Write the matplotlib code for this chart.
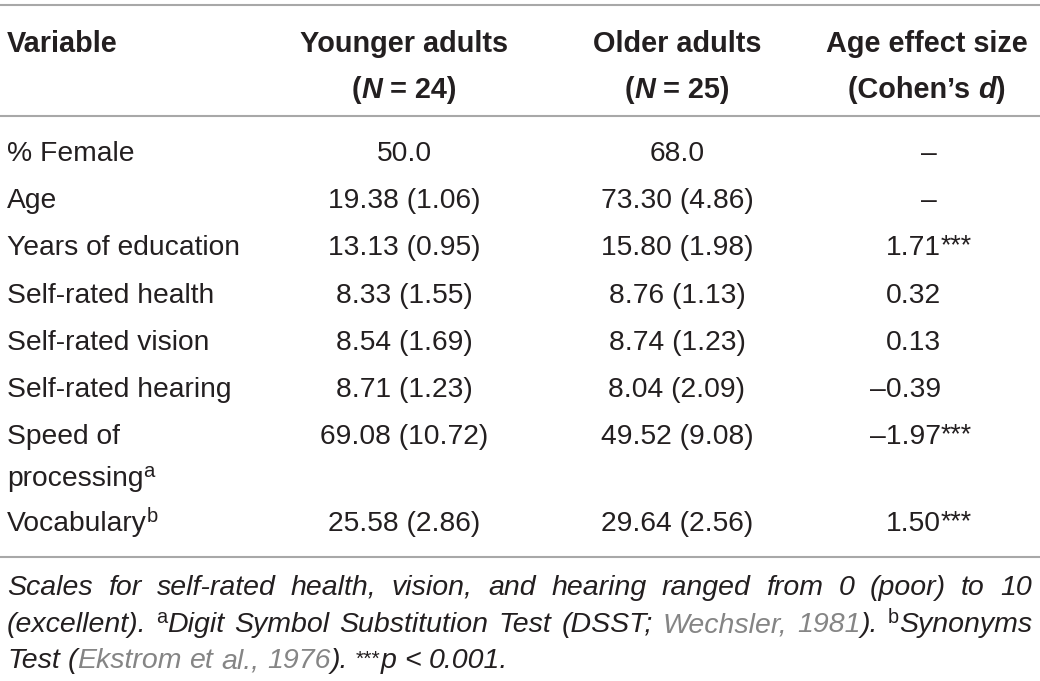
import matplotlib.pyplot as plt

plt.rcParams['font.family'] = ['Liberation Sans', 'DejaVu Sans']

# table content
header_1 = ['Variable', 'Younger adults', 'Older adults', 'Age effect size']
group_n = ['24', '25']
variables = ['% Female', 'Age', 'Years of education', 'Self-rated health',
             'Self-rated vision', 'Self-rated hearing', 'Speed of\nprocessing',
             'Vocabulary']
var_notes = ['', '', '', '', '', '', 'a', 'b']
younger = ['50.0', '19.38 (1.06)', '13.13 (0.95)', '8.33 (1.55)', '8.54 (1.69)',
           '8.71 (1.23)', '69.08 (10.72)', '25.58 (2.86)']
older = ['68.0', '73.30 (4.86)', '15.80 (1.98)', '8.76 (1.13)', '8.74 (1.23)',
         '8.04 (2.09)', '49.52 (9.08)', '29.64 (2.56)']
effect = ['–', '–', '1.71', '0.32', '0.13', '–0.39', '–1.97', '1.50']
effect_sig = ['', '', '***', '', '', '', '***', '***']

INK = '#231f20'
LINK = '#858585'
RULE = '#a8a8a8'
FS = 20.3
FB = 20.8
FN = 20.5

fig = plt.figure(figsize=(10.4, 6.81), dpi=100)
ax = fig.add_axes([0, 0, 1, 1])
ax.set_xlim(0, 1040)
ax.set_ylim(681, 0)
ax.axis('off')
renderer = fig.canvas.get_renderer()


def width(txt, **kw):
    a = ax.text(0, 0, '|' + txt + '|', **kw)
    b = ax.text(0, 0, '||', **kw)
    w = a.get_window_extent(renderer).width - b.get_window_extent(renderer).width
    a.remove()
    b.remove()
    return w


def props(r):
    kw = dict(fontsize=r.get('size', FS), color=r.get('color', INK),
              fontweight=r.get('weight', 'normal'), fontstyle=r.get('style', 'normal'))
    return kw


def runs_width(runs):
    return sum(width(r['t'], **props(r)) for r in runs)


def put(x, y, runs, ha='left'):
    w = runs_width(runs)
    if ha == 'center':
        x -= w / 2
    elif ha == 'right':
        x -= w
    for r in runs:
        kw = props(r)
        ax.text(x, y - r.get('rise', 0), r['t'], va='baseline', ha='left', **kw)
        x += width(r['t'], **kw)


# rules
for yy in (5, 116, 557):
    ax.plot([0, 1040], [yy, yy], color=RULE, lw=1.5, solid_capstyle='butt')

# header
col_x = [7, 404, 677, 927]
bold = dict(weight='bold', size=FB)
put(col_x[0], 52, [dict(t=header_1[0], **bold)])
for cx, h in zip(col_x[1:], header_1[1:]):
    put(cx, 52, [dict(t=h, **bold)], ha='center')
for cx, n in zip(col_x[1:3], group_n):
    put(cx, 98, [dict(t='(', **bold), dict(t='N', style='italic', **bold),
                 dict(t=' = ' + n + ')', **bold)], ha='center')
put(col_x[3], 98, [dict(t='(Cohen\u2019s ', **bold), dict(t='d', style='italic', **bold),
                   dict(t=')', **bold)], ha='center')

# body rows
row_y = [161, 208, 255, 303, 350, 397, 444, 531]
for i, y in enumerate(row_y):
    lines = variables[i].split('\n')
    for k, ln in enumerate(lines):
        runs = [dict(t=ln)]
        if k == len(lines) - 1 and var_notes[i]:
            runs.append(dict(t=var_notes[i], size=FS * 0.72, rise=9))
        put(col_x[0], y + 42 * k, runs)
    put(col_x[1], y, [dict(t=younger[i])], ha='center')
    put(col_x[2], y, [dict(t=older[i])], ha='center')
    if effect[i] == '–':
        put(929, y, [dict(t='–')], ha='center')
    else:
        put(941, y, [dict(t=effect[i])], ha='right')
        if effect_sig[i]:
            put(941, y, [dict(t=effect_sig[i], size=FS * 0.95, rise=2)])

# footnote
it = dict(style='italic', size=FN)
sup = dict(size=FN * 0.7, rise=9)
star = dict(size=FN * 0.75, rise=3)
note_lines = [
    [[dict(t=w, **it)] for w in
     'Scales for self-rated health, vision, and hearing ranged from 0 (poor) to 10'.split()],
    [[dict(t='(excellent).', **it)],
     [dict(t='a', **sup), dict(t='Digit', **it)],
     [dict(t='Symbol', **it)], [dict(t='Substitution', **it)], [dict(t='Test', **it)],
     [dict(t='(DSST;', **it)],
     [dict(t='Wechsler,', color=LINK, **it)],
     [dict(t='1981', color=LINK, **it), dict(t=').', **it)],
     [dict(t='b', **sup), dict(t='Synonyms', **it)]],
    [[dict(t='Test', **it)],
     [dict(t='(', **it), dict(t='Ekstrom', color=LINK, **it)],
     [dict(t='et', color=LINK, **it)], [dict(t='al.,', color=LINK, **it)],
     [dict(t='1976', color=LINK, **it), dict(t=').', **it)],
     [dict(t='***', **star), dict(t='p', **it)],
     [dict(t='<', **it)], [dict(t='0.001.', **it)]],
]
note_y = [595, 632, 668]
left, right = 7, 1032
space = width(' ', fontsize=FN, fontstyle='italic')
for j, (words, y) in enumerate(zip(note_lines, note_y)):
    ws = [runs_width(w) for w in words]
    gap = (right - left - sum(ws)) / (len(words) - 1) if j < 2 else space
    x = left
    for w, wd in zip(words, ws):
        put(x, y, w)
        x += wd + gap

fig.savefig('out.png', dpi=100)
